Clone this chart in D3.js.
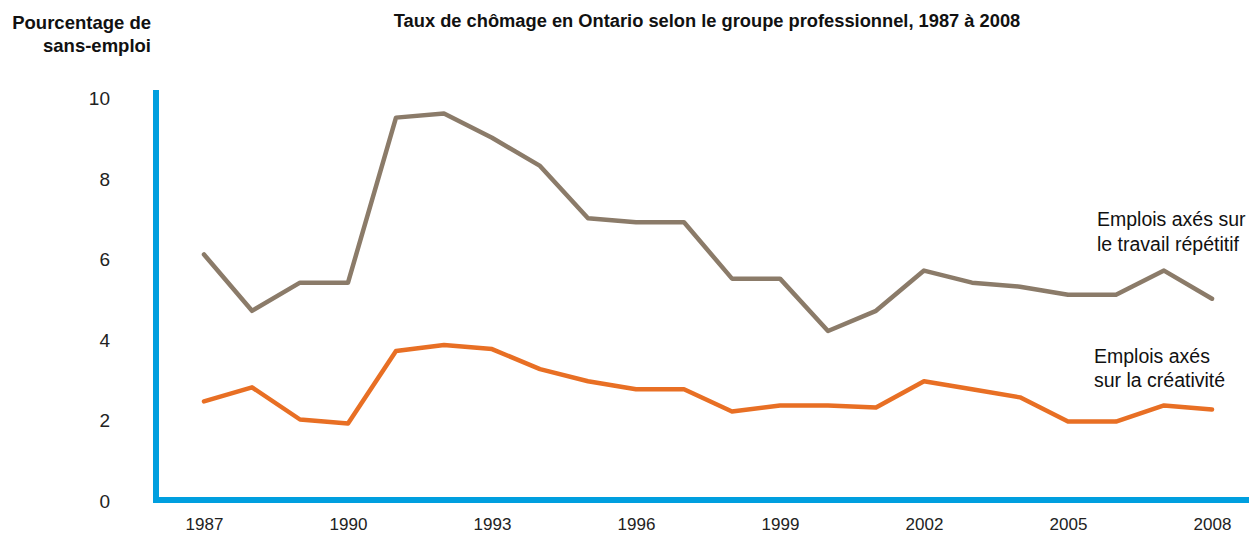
<!DOCTYPE html>
<html><head><meta charset="utf-8">
<script src="https://cdn.jsdelivr.net/npm/d3@7"></script>
<style>body{margin:0;background:#fff}svg{display:block;font-family:"Liberation Sans",Arial,sans-serif}</style>
</head><body><svg id="c" width="1249" height="534"></svg>
<script>
const years = d3.range(1987, 2009);
const repetitif = [6.1,4.7,5.4,5.4,9.5,9.6,9.0,8.3,7.0,6.9,6.9,5.5,5.5,4.2,4.7,5.7,5.4,5.3,5.1,5.1,5.7,5.0];
const creativite = [2.45,2.8,2.0,1.9,3.7,3.85,3.75,3.25,2.95,2.75,2.75,2.2,2.35,2.35,2.3,2.95,2.75,2.55,1.95,1.95,2.35,2.25];
const yTicks = [0,2,4,6,8,10];
const xTicks = [1987,1990,1993,1996,1999,2002,2005,2008];

const svg = d3.select("#c");
const x = d3.scaleLinear().domain([1987,2008]).range([204,1212]);
const y = d3.scaleLinear().domain([0,10]).range([500,97.5]);

svg.append("text").attr("x",707).attr("y",27).attr("text-anchor","middle")
  .attr("font-weight","bold").attr("font-size",18.3).attr("fill","#111")
  .text("Taux de chômage en Ontario selon le groupe professionnel, 1987 à 2008");
svg.append("text").attr("x",151).attr("y",29).attr("text-anchor","end")
  .attr("font-weight","bold").attr("font-size",18.5).attr("fill","#111").text("Pourcentage de");
svg.append("text").attr("x",151).attr("y",52).attr("text-anchor","end")
  .attr("font-weight","bold").attr("font-size",18.5).attr("fill","#111").text("sans-emploi");

const yAxis = d3.axisLeft(y).tickValues(yTicks).tickSize(0).tickPadding(0).tickFormat(d3.format("d"));
const gy = svg.append("g").attr("transform","translate(110,0)").call(yAxis);
gy.select(".domain").remove();
gy.selectAll("text").attr("font-size",19).attr("dy","0.37em").attr("fill","#222").attr("font-family","Liberation Sans, Arial, sans-serif");

const xAxis = d3.axisBottom(x).tickValues(xTicks).tickSize(0).tickPadding(0).tickFormat(d3.format("d"));
const gx = svg.append("g").attr("transform","translate(0,518)").call(xAxis);
gx.select(".domain").remove();
gx.selectAll("text").attr("font-size",17).attr("fill","#222").attr("font-family","Liberation Sans, Arial, sans-serif");

// axis lines
svg.append("line").attr("x1",156).attr("x2",156).attr("y1",90).attr("y2",503)
  .attr("stroke","#009FDF").attr("stroke-width",6);
svg.append("line").attr("x1",153).attr("x2",1249).attr("y1",500).attr("y2",500)
  .attr("stroke","#009FDF").attr("stroke-width",6);

const line = d3.line().x((d,i)=>x(years[i])).y(d=>y(d));
svg.append("path").datum(repetitif).attr("d",line).attr("fill","none")
  .attr("stroke","#8B7B69").attr("stroke-width",4.5).attr("stroke-linecap","round").attr("stroke-linejoin","round");
svg.append("path").datum(creativite).attr("d",line).attr("fill","none")
  .attr("stroke","#E86F24").attr("stroke-width",4.5).attr("stroke-linecap","round").attr("stroke-linejoin","round");

const lab = [["Emplois axés sur",1097,226],["le travail répétitif",1097,251],["Emplois axés",1094,363],["sur la créativité",1094,387]];
lab.forEach(l=>svg.append("text").attr("x",l[1]).attr("y",l[2]).attr("font-size",19.5).attr("fill","#111").text(l[0]));
</script></body></html>
